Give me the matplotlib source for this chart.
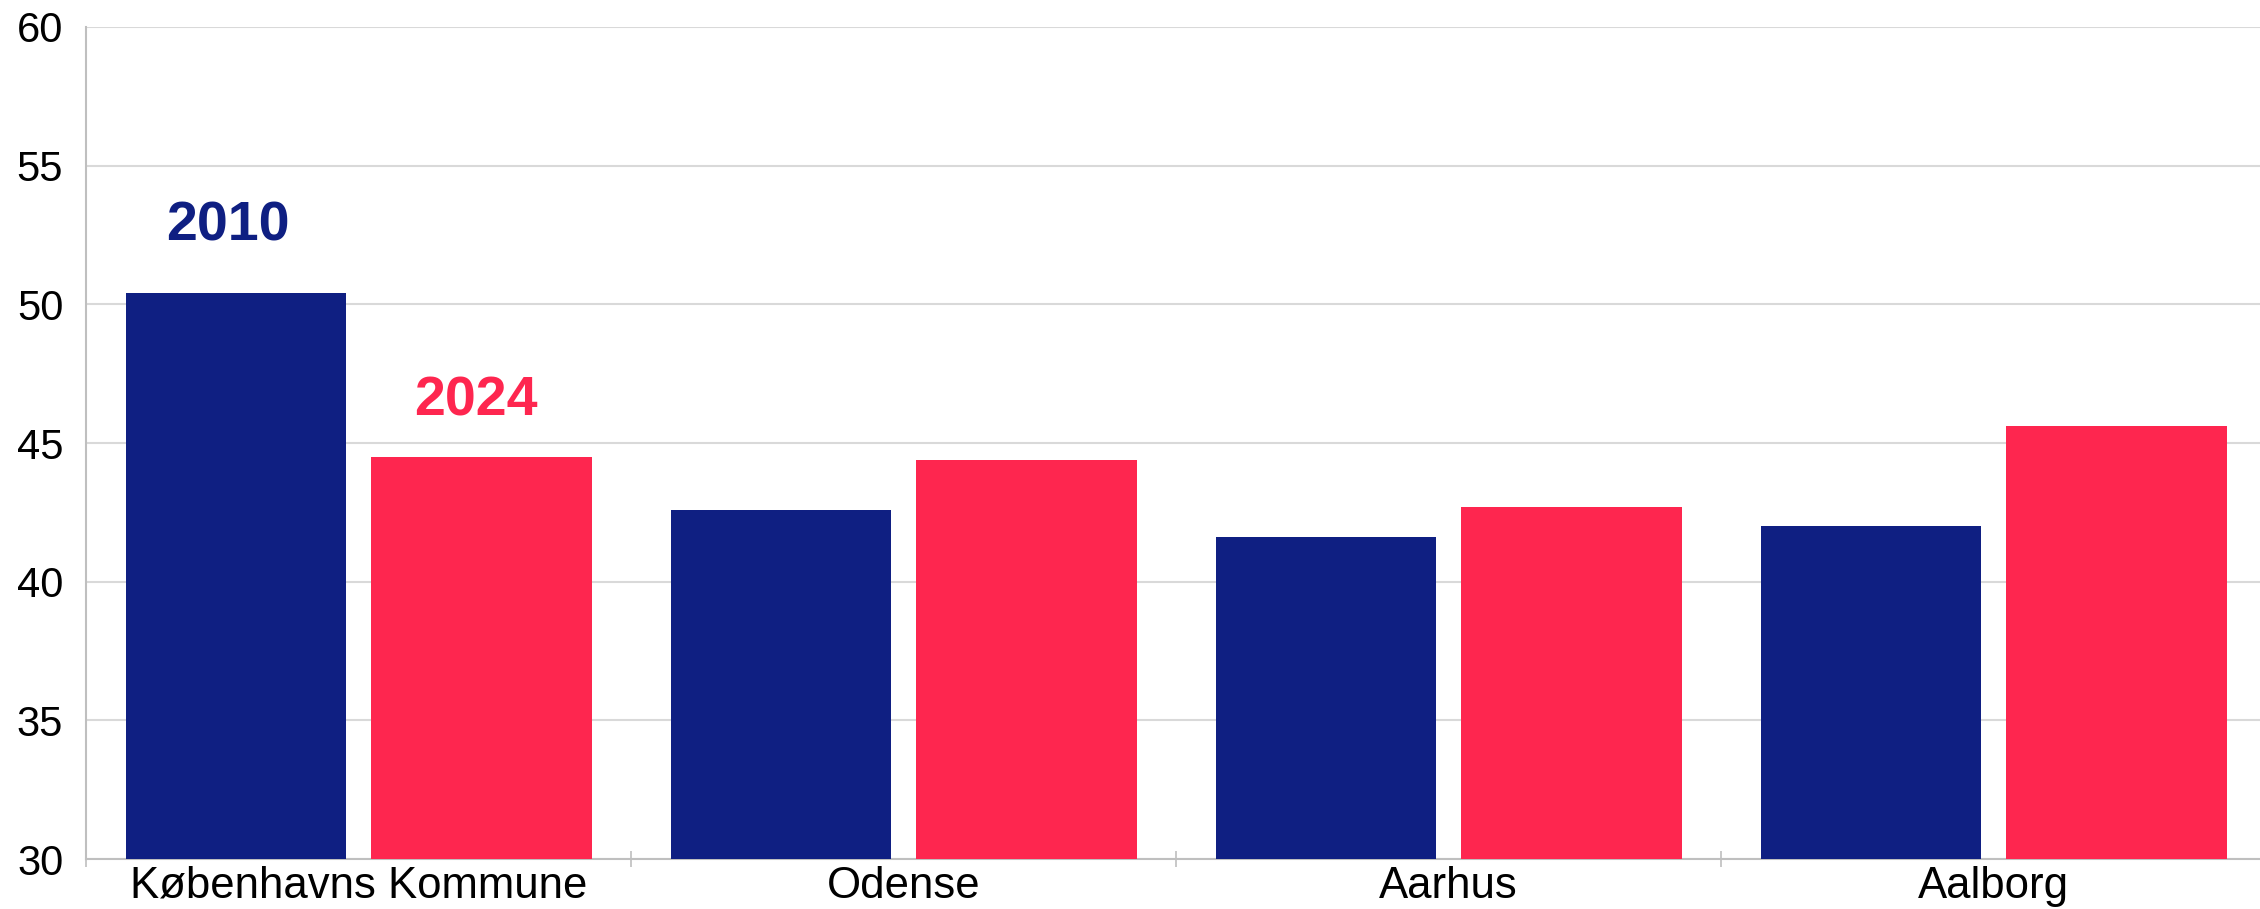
import numpy as np
import matplotlib.pyplot as plt
from matplotlib.ticker import FixedLocator

plt.rcParams['font.family'] = ['Liberation Sans', 'DejaVu Sans']

# Kommuner og værdier for de to år
kommuner = ['Københavns Kommune', 'Odense', 'Aarhus', 'Aalborg']
vaerdier_2010 = [50.4, 42.6, 41.6, 42.0]
vaerdier_2024 = [44.5, 44.4, 42.7, 45.6]
aar = ['2010', '2024']
y_ticks = [30, 35, 40, 45, 50, 55, 60]

blaa = '#0F1F82'
roed = '#FE264F'
graa = '#BFBFBF'

fig = plt.figure(figsize=(22.6, 9.09), dpi=100)
ax = fig.add_axes([0.0381, 0.0550, 0.9646, 0.9153])

x = np.arange(len(kommuner))
bredde = 0.405
forskyd = 0.225
ax.bar(x - forskyd, vaerdier_2010, bredde, bottom=0, color=blaa, zorder=3)
ax.bar(x + forskyd, vaerdier_2024, bredde, bottom=0, color=roed, zorder=3)

ax.set_ylim(30, 60)
ax.set_xlim(-0.5, len(kommuner) - 0.5)
ax.set_yticks(y_ticks)
ax.tick_params(axis='y', length=0, pad=16.5, labelsize=30)
ax.grid(axis='y', color='#D9D9D9', linewidth=1.5, zorder=0)

# kategorinavne under midten, skillestreger mellem grupperne
ax.set_xticks(x)
ax.set_xticklabels(kommuner, fontsize=31.5)
ax.tick_params(axis='x', which='major', length=0, pad=5)
ax.xaxis.set_minor_locator(FixedLocator(np.arange(-0.5, len(kommuner) - 0.4, 1.0)))
ax.tick_params(axis='x', which='minor', direction='inout', length=12,
               width=1.2, color=graa)

for side in ['top', 'right']:
    ax.spines[side].set_visible(False)
for side in ['left', 'bottom']:
    ax.spines[side].set_color(graa)
    ax.spines[side].set_linewidth(1.5)

# årstal over første gruppe
ax.text(x[0] - forskyd - 0.015, 52.3, aar[0], color=blaa, fontsize=40,
        fontweight='bold', ha='center', va='baseline')
ax.text(x[0] + forskyd - 0.01, 46.0, aar[1], color=roed, fontsize=40,
        fontweight='bold', ha='center', va='baseline')

fig.savefig('out.png', dpi=100)
